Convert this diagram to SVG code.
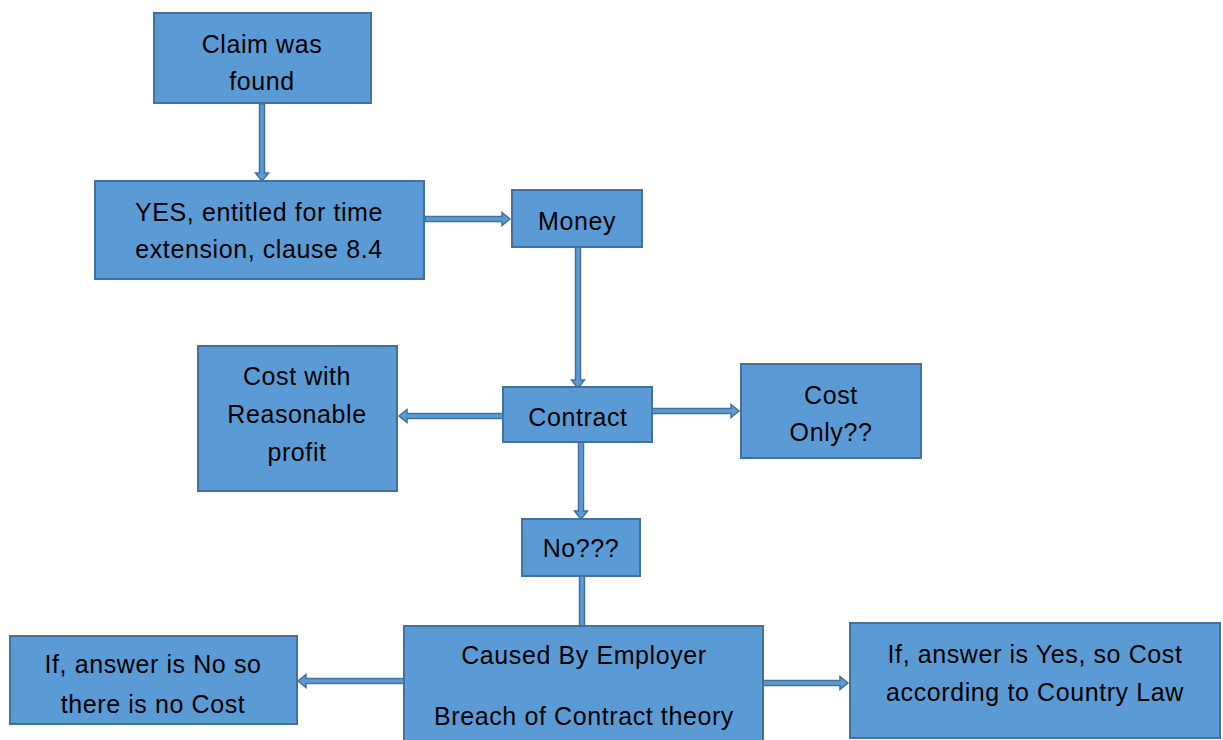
<svg xmlns="http://www.w3.org/2000/svg" width="1223" height="740" viewBox="0 0 1223 740">
<style>
.box{fill:#5b9bd5;stroke:#41719c;stroke-width:2}
.arr{fill:#5b9bd5;stroke:#41719c;stroke-width:1.5;stroke-linejoin:miter}
text{font-family:"Liberation Sans",Arial,sans-serif;font-size:25px;letter-spacing:0.6px;fill:#000;text-anchor:middle}
</style>
<rect width="1223" height="740" fill="#fff"/>
<g id="connectors">
<polygon class="arr" points="259.5,104 264.5,104 264.5,173 268.5,173 262,181 255.5,173 259.5,173"/>
<polygon class="arr" points="425,216.5 502,216.5 502,212.5 510,219 502,225.5 502,221.5 425,221.5"/>
<polygon class="arr" points="575.5,247 580.5,247 580.5,380 584.5,380 578,388 571.5,380 575.5,380"/>
<polygon class="arr" points="503,413.5 407,413.5 407,409.5 399,416 407,422.5 407,418.5 503,418.5"/>
<polygon class="arr" points="652,408.5 731,408.5 731,404.5 739,411 731,417.5 731,413.5 652,413.5"/>
<polygon class="arr" points="578.5,442 583.5,442 583.5,511 587.5,511 581,519 574.5,511 578.5,511"/>
<rect class="arr" x="579.5" y="576" width="5" height="50"/>
<polygon class="arr" points="404,678.5 306,678.5 306,674.5 298,681 306,687.5 306,683.5 404,683.5"/>
<polygon class="arr" points="763,680.5 840,680.5 840,676.5 848,683 840,689.5 840,685.5 763,685.5"/>
</g>
<g id="n1"><rect class="box" x="154" y="13" width="217" height="90"/><text x="262" y="53">Claim was</text><text x="262" y="90">found</text></g>
<g id="n2"><rect class="box" x="95" y="181" width="329" height="98"/><text x="259" y="221">YES, entitled for time</text><text x="259" y="258">extension, clause 8.4</text></g>
<g id="n3"><rect class="box" x="512" y="190" width="130" height="57"/><text x="577" y="230">Money</text></g>
<g id="n4"><rect class="box" x="198" y="346" width="199" height="145"/><text x="297" y="385">Cost with</text><text x="297" y="423">Reasonable</text><text x="297" y="461">profit</text></g>
<g id="n5"><rect class="box" x="503" y="387" width="149" height="55"/><text x="578" y="426">Contract</text></g>
<g id="n6"><rect class="box" x="741" y="364" width="180" height="94"/><text x="831" y="404">Cost</text><text x="831" y="441">Only??</text></g>
<g id="n7"><rect class="box" x="522" y="519" width="118" height="57"/><text x="581" y="557">No???</text></g>
<g id="n8"><rect class="box" x="10" y="636" width="287" height="88"/><text x="153" y="673">If, answer is No so</text><text x="153" y="713">there is no Cost</text></g>
<g id="n9"><rect class="box" x="404" y="626" width="359" height="120"/><text x="584" y="664">Caused By Employer</text><text x="584" y="725">Breach of Contract theory</text></g>
<g id="n10"><rect class="box" x="850" y="623" width="370" height="115"/><text x="1035" y="663">If, answer is Yes, so Cost</text><text x="1035" y="701">according to Country Law</text></g>
</svg>
